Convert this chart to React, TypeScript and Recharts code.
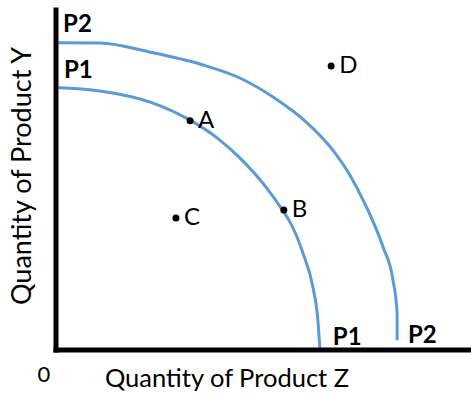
import { ComposedChart, Line, Scatter, XAxis, YAxis, Label } from 'recharts'

// frontier curves (z = product Z, y = product Y)
const p1Z = [0, 1.06, 2.27, 3.23, 3.88, 4.43, 5.06, 5.47, 5.64, 5.95, 6.19, 6.31, 6.36]
const p1Y = [7.72, 7.62, 7.29, 6.76, 6.24, 5.65, 4.79, 4.09, 3.76, 2.85, 1.85, 0.88, 0]
const p2Z = [0, 1.06, 2.27, 3.47, 4.43, 5.23, 6.05, 6.67, 7.08, 7.40, 7.88, 8.12, 8.22, 8.22]
const p2Y = [9.04, 9.03, 8.76, 8.41, 8.0, 7.44, 6.68, 5.88, 5.15, 4.41, 3.03, 2.06, 1.09, 0.29]

const pointNames = ['A', 'B', 'C', 'D']
const pointZ = [3.23, 5.49, 2.89, 6.63]
const pointY = [6.74, 4.12, 3.88, 8.35]

const curveLabelNames = ['P2', 'P1', 'P1', 'P2']
const curveLabelZ = [0.17, 0.19, 6.67, 8.48]
const curveLabelY = [9.35, 8.0, 0.15, 0.21]

const p1 = p1Z.map((z, i) => ({ z, y: p1Y[i] }))
const p2 = p2Z.map((z, i) => ({ z, y: p2Y[i] }))
const points = pointNames.map((name, i) => ({ name, z: pointZ[i], y: pointY[i] }))
const curveLabels = curveLabelNames.map((name, i) => ({ name, z: curveLabelZ[i], y: curveLabelY[i] }))

const FONT = 'Lato, "Open Sans", sans-serif'
const BLUE = '#5B9BD5'

const PointShape = (props: any) => {
  const { cx, cy, payload } = props
  return (
    <g>
      <circle cx={cx} cy={cy} r={3.5} fill="#000" />
      <text x={cx + 8} y={cy + 7} fontFamily={FONT} fontSize={24} fill="#000">{payload.name}</text>
    </g>
  )
}

const CurveLabel = (props: any) => {
  const { cx, cy, payload } = props
  return (
    <text x={cx} y={cy} fontFamily={FONT} fontSize={24} fontWeight="bold" fill="#000">{payload.name}</text>
  )
}

const ZeroTick = (props: any) => {
  const { x, y } = props
  return <text x={x - 12} y={y + 24} textAnchor="middle" fontFamily={FONT} fontSize={22} fill="#000">0</text>
}

export default function App() {
  return (
    <div style={{ position: 'absolute', left: 0, top: 0, width: 471, height: 394, background: '#fff' }}>
      <ComposedChart width={471} height={394} margin={{ top: 10, right: 0, bottom: 0, left: 0 }}>
        <XAxis dataKey="z" type="number" domain={[0, 10]} ticks={[0]} height={44}
          axisLine={{ stroke: '#000', strokeWidth: 5, strokeLinecap: 'square' }}
          tickLine={false} tick={<ZeroTick />} allowDataOverflow>
          <Label content={() => (
            <text x={227} y={387} textAnchor="middle" fontFamily={FONT} fontSize={25.5} fill="#000">Quantity of Product Z</text>
          )} />
        </XAxis>
        <YAxis dataKey="y" type="number" domain={[0, 10]} width={56}
          axisLine={{ stroke: '#000', strokeWidth: 5, strokeLinecap: 'square' }}
          tickLine={false} tick={false} allowDataOverflow>
          <Label content={() => (
            <text x={31} y={176} transform="rotate(-90 31 176)" textAnchor="middle" fontFamily={FONT} fontSize={27} fill="#000">Quantity of Product Y</text>
          )} />
        </YAxis>
        <Line data={p1} dataKey="y" type="monotone" stroke={BLUE} strokeWidth={3} dot={false} isAnimationActive={false} />
        <Line data={p2} dataKey="y" type="monotone" stroke={BLUE} strokeWidth={3} dot={false} isAnimationActive={false} />
        <Scatter data={points} dataKey="y" shape={<PointShape />} isAnimationActive={false} />
        <Scatter data={curveLabels} dataKey="y" shape={<CurveLabel />} isAnimationActive={false} />
      </ComposedChart>
    </div>
  )
}
